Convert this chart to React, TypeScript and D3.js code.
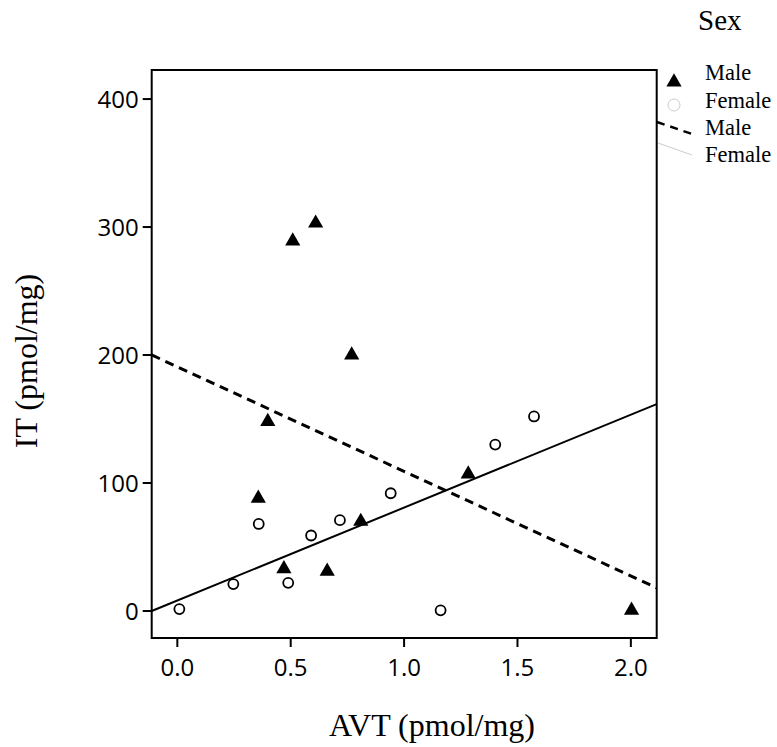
import React from "react";
import * as d3 from "d3";

const maleAVT = [0.509, 0.61, 0.769, 0.399, 0.357, 0.809, 0.47, 0.661, 1.283, 2.003];
const maleIT = [289, 303, 200, 148, 88, 70, 33, 31, 107, 0.5];
const femaleAVT = [0.359, 0.59, 0.717, 0.941, 0.489, 0.247, 0.009, 1.573, 1.402, 1.161];
const femaleIT = [68, 59, 71, 92, 22, 21, 1.5, 152, 130, 0.5];
// fit lines: [intercept, slope]
const maleFit = [190.8, -81.7];
const femaleFit = [8.2, 72.6];
const xTicks = [0, 0.5, 1.0, 1.5, 2.0];
const yTicks = [0, 100, 200, 300, 400];
const xDomain = [-0.113, 2.114];
const yDomain = [-21.1, 422.7];

const L = 151.7, R = 656.7, T = 70, B = 638;

export default function App() {
  const x = d3.scaleLinear().domain(xDomain).range([L, R]);
  const y = d3.scaleLinear().domain(yDomain).range([B, T]);
  const tri = d3.symbol().type(d3.symbolTriangle).size(100);
  const fitPath = (fit: number[]) =>
    d3.line<number>().x((v) => x(v)).y((v) => y(fit[0] + fit[1] * v))(xDomain) || "";
  const serif = "'Liberation Serif', 'Times New Roman', serif";
  const sans = "'Open Sans', sans-serif";
  return (
    <svg width={777} height={747} style={{ position: "absolute", left: 0, top: 0, background: "#fff" }}>
      <rect x={0} y={0} width={777} height={747} fill="#fff" />
      <defs>
        <clipPath id="plot">
          <rect x={L} y={T} width={R - L} height={B - T} />
        </clipPath>
      </defs>
      {/* fit lines */}
      <g clipPath="url(#plot)">
        <path d={fitPath(maleFit)} stroke="#000" strokeWidth={3} strokeDasharray="9,6" fill="none" />
        <path d={fitPath(femaleFit)} stroke="#000" strokeWidth={2} fill="none" />
      </g>
      {/* points */}
      {femaleAVT.map((v, i) => (
        <circle key={"f" + i} cx={x(v)} cy={y(femaleIT[i])} r={5} fill="#fff" stroke="#000" strokeWidth={1.8} />
      ))}
      {maleAVT.map((v, i) => (
        <path key={"m" + i} d={tri() || ""} transform={`translate(${x(v)},${y(maleIT[i])})`} fill="#000" />
      ))}
      {/* box */}
      <rect x={L} y={T} width={R - L} height={B - T} fill="none" stroke="#000" strokeWidth={2} />
      {/* y ticks */}
      {yTicks.map((t) => (
        <g key={"y" + t}>
          <line x1={L - 9} x2={L} y1={y(t)} y2={y(t)} stroke="#000" strokeWidth={2} />
          <text x={L - 13} y={y(t)} dy="0.36em" textAnchor="end" fontFamily={sans} fontSize={24} fill="#000">
            {d3.format("d")(t)}
          </text>
        </g>
      ))}
      {/* x ticks */}
      {xTicks.map((t) => (
        <g key={"x" + t}>
          <line x1={x(t)} x2={x(t)} y1={B} y2={B + 9} stroke="#000" strokeWidth={2} />
          <text x={x(t)} y={676} textAnchor="middle" fontFamily={sans} fontSize={24} fill="#000">
            {d3.format(".1f")(t)}
          </text>
        </g>
      ))}
      {/* axis titles */}
      <text x={432} y={736} textAnchor="middle" fontFamily={serif} fontSize={32} fill="#000">
        AVT (pmol/mg)
      </text>
      <text transform="translate(37,361) rotate(-90)" textAnchor="middle" fontFamily={serif} fontSize={32} fill="#000">
        IT (pmol/mg)
      </text>
      {/* legend */}
      <text x={698} y={30} fontFamily={serif} fontSize={29} fill="#000">Sex</text>
      <path d={tri() || ""} transform="translate(674,82)" fill="#000" />
      <circle cx={674} cy={105} r={6} fill="#fff" stroke="#ccc" strokeWidth={1} />
      <line x1={657} y1={122} x2={692} y2={134} stroke="#000" strokeWidth={2.5} strokeDasharray="8,6" />
      <line x1={658} y1={143} x2={692} y2={155} stroke="#ccc" strokeWidth={1} />
      <text x={705} y={80} fontFamily={serif} fontSize={22.5} fill="#000">Male</text>
      <text x={705} y={108} fontFamily={serif} fontSize={22.5} fill="#000">Female</text>
      <text x={705} y={135} fontFamily={serif} fontSize={22.5} fill="#000">Male</text>
      <text x={705} y={162} fontFamily={serif} fontSize={22.5} fill="#000">Female</text>
    </svg>
  );
}
